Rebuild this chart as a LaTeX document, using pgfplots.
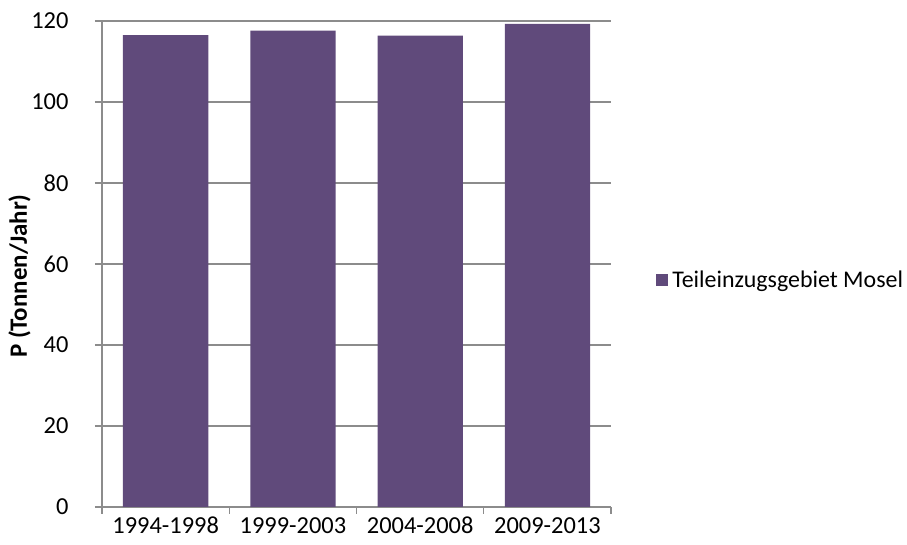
\documentclass[border=0pt]{standalone}
\usepackage{fontspec}
\setmainfont{Carlito}
\usepackage{pgfplots}
\pgfplotsset{compat=1.18}
\definecolor{barc}{HTML}{604A7B}
\definecolor{gridc}{HTML}{8C8C8C}
\begin{document}
\begin{tikzpicture}[x=1bp,y=1bp]
\useasboundingbox (0,0) rectangle (907,545);
\begin{axis}[
  at={(102bp,38bp)}, anchor=south west,
  width=509bp, height=486bp, scale only axis,
  xmin=-0.5, xmax=3.5, ymin=0, ymax=120,
  ybar, bar width=0.67,
  ytick={0,20,...,120},
  xtick={-0.5,0.5,1.5,2.5,3.5},
  xticklabels={},
  extra x ticks={0,1,2,3},
  extra x tick labels={1994-1998,1999-2003,2004-2008,2009-2013},
  extra x tick style={major tick length=0pt, grid=none},
  axis x line*=bottom, axis y line*=left,
  axis line style={-, gridc, line width=1.3bp},
  ymajorgrids, grid style={gridc, line width=1.3bp},
  tick align=outside,
  major tick length=7bp,
  tick style={gridc, line width=1.3bp},
  /pgf/number format/assume math mode=true,
  tick label style={font=\fontsize{24.5}{29}\selectfont, black},
  yticklabel style={xshift=-23bp},
  xticklabel style={anchor=north, yshift=-9bp, text height=17bp, text depth=0pt, inner sep=0pt},
  ylabel={P (Tonnen/Jahr)},
  ylabel style={font=\fontsize{25}{29}\selectfont\bfseries, at={(axis description cs:-0.162,0.475)}, anchor=center},
  legend style={at={(axis description cs:1.0885,0.467)}, anchor=west, draw=none, fill=none,
    font=\fontsize{24}{29}\selectfont, inner sep=0pt,
    legend cell align=left},
  legend image code/.code={\fill[barc] (0bp,-6bp) rectangle (12bp,6bp);},
]
\addplot[fill=barc, draw=none] coordinates {(0,116.5) (1,117.6) (2,116.4) (3,119.3)};
\addlegendentry{\hspace{2bp}Teileinzugsgebiet Mosel}
\end{axis}
\end{tikzpicture}
\end{document}
